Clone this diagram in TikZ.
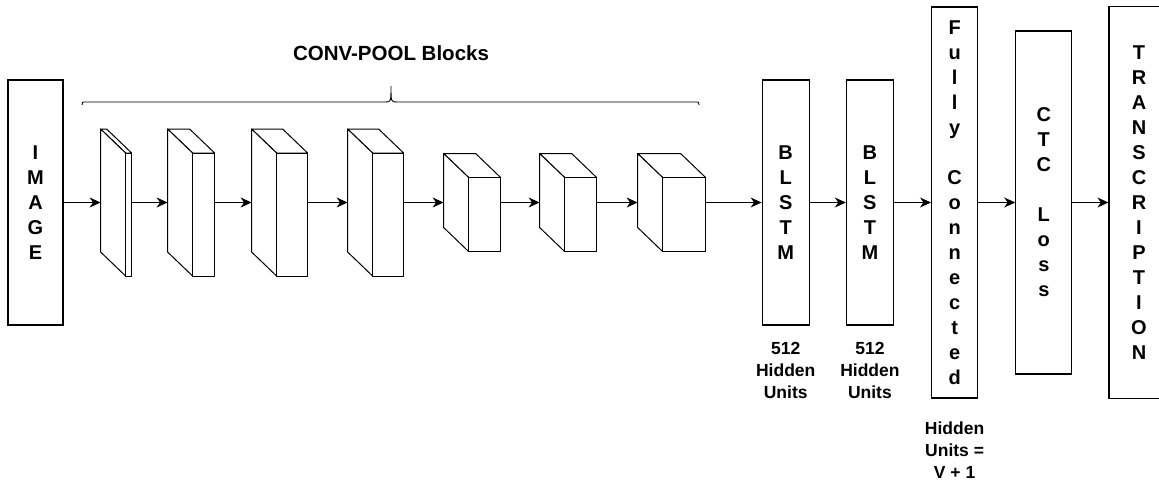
\documentclass[tikz,border=0pt]{standalone}
\usepackage{fontspec}
\setmainfont{Liberation Sans}
\usetikzlibrary{arrows.meta,positioning}

\begin{document}
\begin{tikzpicture}[
  x=1pt, y=-1pt,
  node distance=37pt,
  layer/.style={draw, line width=1.2pt, inner sep=0pt, align=center, minimum height=245pt, font=\fontsize{20}{25}\selectfont\bfseries},
  cube/.style 2 args={inner sep=0pt, outer sep=0pt, minimum width={(#1+25)*1pt}, minimum height={(#2+24)*1pt}},
  face/.style={draw, fill=white, line width=1pt, line join=round},
  note/.style={inner sep=0pt, align=center, font=\fontsize{17.5}{22}\selectfont\bfseries},
  arr/.style={-{Stealth[length=11pt, width=10pt, inset=3.5pt]}, line width=1.1pt},
]
\useasboundingbox (0,0) rectangle (1159,480);

\node[layer, minimum width=55pt] (image) at (35.5,202.5) {I\\M\\A\\G\\E};

% conv-pool blocks
\node[cube={6}{123}, right=of image] (b1) {};
\node[cube={22}{123}, right=36pt of b1] (b2) {};
\node[cube={31}{123}, right=of b2] (b3) {};
\node[cube={31}{123}, right=40pt of b3] (b4) {};
\node[cube={32}{74}, right=40pt of b4] (b5) {};
\node[cube={32}{74}, right=39pt of b5] (b6) {};
\node[cube={43}{74}, right=41pt of b6] (b7) {};
\foreach \b/\w in {b1/6, b2/22, b3/31, b4/31, b5/32, b6/32, b7/43} {
  \draw[face] (\b.north west) -- ++(\w,0) -- ++(25,24) -- ++(-\w,0) -- cycle;
  \draw[face] (\b.north west) -- ++(25,24) -- ([xshift=25pt]\b.south west) -- ++(-25,-24) -- cycle;
  \draw[face] ([shift={(25,24)}]\b.north west) rectangle (\b.south east);
}

\node[layer, minimum width=47pt, right=56pt of b7] (lstm1) {B\\L\\S\\T\\M};
\node[layer, minimum width=47pt, right=36pt of lstm1] (lstm2) {B\\L\\S\\T\\M};
\node[layer, minimum width=46pt, minimum height=391pt, right=of lstm2] (fc) {F\\u\\l\\l\\y\\[25pt]C\\o\\n\\n\\e\\c\\t\\e\\d};
\node[layer, minimum width=56pt, minimum height=343pt, right=of fc] (ctc) {C\\T\\C\\[25pt]L\\o\\s\\s};
\node[layer, minimum width=60pt, minimum height=392pt, right=36pt of ctc] (trans) {T\\R\\A\\N\\S\\C\\R\\I\\P\\T\\I\\O\\N};

\node[note, below=16pt of lstm1] (units1) {512\\Hidden\\Units};
\node[note, below=16pt of lstm2] (units2) {512\\Hidden\\Units};
\node[note, below=23pt of fc] (units3) {Hidden\\Units =\\V + 1};

% brace over the blocks
\draw[line width=0.9pt] (82,105) .. controls (82,102) .. (86,102) -- (385,102)
  .. controls (391,102) .. (391,86) .. controls (391,102) .. (397,102) -- (695,102)
  .. controls (699,102) .. (699,105);
\node[font=\fontsize{20.5}{24}\selectfont\bfseries] (title) at (391,53) {CONV-POOL Blocks};

\foreach \a/\b in {image/b1, b1/b2, b2/b3, b3/b4, b4/b5, b5/b6, b6/b7, b7/lstm1, lstm1/lstm2, lstm2/fc, fc/ctc, ctc/trans}
  \draw[arr] (\a) -- (\b);
\end{tikzpicture}
\end{document}
